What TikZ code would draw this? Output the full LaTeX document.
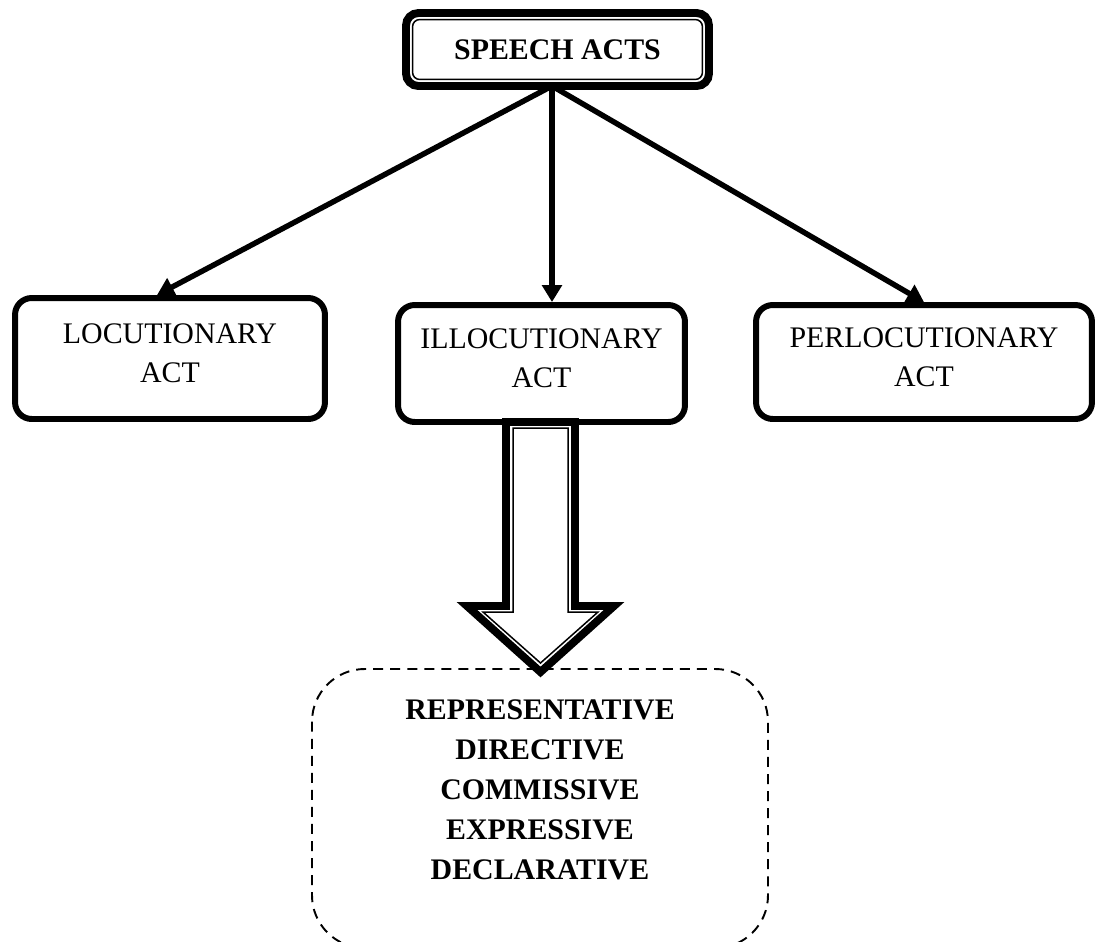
\documentclass[tikz,border=0pt]{standalone}
\usepackage{fontspec}
\setmainfont{Liberation Serif}
\usetikzlibrary{arrows.meta}
\newcommand{\lowstrut}{\rule[-0.2cm]{0pt}{0.2cm}}
\begin{document}
\begin{tikzpicture}[
	x=0.02cm, y=-0.02cm,
	headbox/.style={ rectangle, draw, line width=4.5pt, rounded corners=7pt, minimum width=6.06cm, minimum height=1.46cm, font=\fontsize{17}{22}\selectfont\bfseries },
	actbox/.style={ rectangle, draw, line width=3.4pt, rounded corners=9.5pt, align=center, font=\fontsize{17}{22.2}\selectfont },
	conn/.style={ line width=3.1pt, -{Triangle[length=3.4mm, width=3.9mm]} },
	typebox/.style={ draw, line width=1.1pt, dash pattern=on 5.7pt off 4pt, rounded corners=30pt },
	typelist/.style={ align=center, font=\fontsize{17}{22.8}\selectfont\bfseries }
]
\useasboundingbox (0,0) rectangle (1096,941);

\node[headbox] at (557.5,49.5) (acts) {SPEECH ACTS};
\draw[line width=0.85pt, rounded corners=4pt] ([shift={(10.5,10.5)}]acts.north west) rectangle ([shift={(-10.5,-10.5)}]acts.south east);

\node[actbox, minimum width=6.2cm, minimum height=2.42cm] at (170,358.5) (loc) {LOCUTIONARY\\ACT\lowstrut};
\node[actbox, minimum width=5.74cm, minimum height=2.34cm] at (541.5,363.5) (ill) {ILLOCUTIONARY\\ACT\lowstrut};
\node[actbox, minimum width=6.72cm, minimum height=2.28cm] at (924,362) (perl) {PERLOCUTIONARY\\ACT\lowstrut};

\coordinate (hub) at (552,86);
\draw[conn] (hub) to ([shift={(-13,0)}]loc.north);
\draw[conn] (hub) to (hub |- ill.north);
\draw[conn] (hub) to (perl.north);

\draw[typebox] (312,669) rectangle (768,948);
\node[typelist] at (540,790) (types) {REPRESENTATIVE\\DIRECTIVE\\COMMISSIVE\\EXPRESSIVE\\DECLARATIVE};

% hollow arrow down to the types
\draw[line width=4.5pt, fill=white] (506,422) -- (506,606) -- (467,606) -- (540.5,672) -- (614,606) -- (575,606) -- (575,422) -- cycle;
\draw[line width=0.85pt] (513,428) -- (513,612) -- (483,612) -- (540.5,663) -- (598,612) -- (568,612) -- (568,428) -- cycle;

\end{tikzpicture}
\end{document}
